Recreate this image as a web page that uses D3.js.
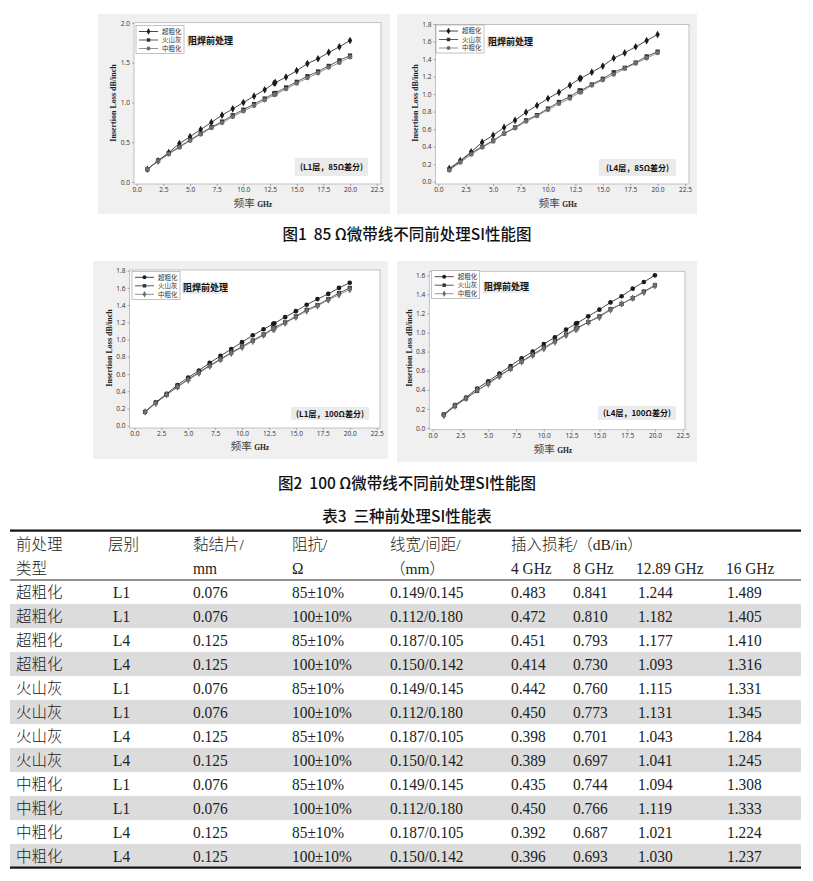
<!DOCTYPE html>
<html>
<head>
<meta charset="utf-8">
<script src="https://cdn.jsdelivr.net/npm/d3@7"></script>
<style>
  body { margin: 0; background: #fff; }
  svg { display: block; }
</style>
</head>
<body>
<svg id="fig" width="813" height="881"></svg>
<script>
// ---- data ------------------------------------------------------------
var freqs = [1, 2, 3, 4, 5, 6, 7, 8, 9, 10, 11, 12, 12.89, 13, 14, 15, 16, 17, 18, 19, 20];
var seriesNames = ['超粗化', '火山灰', '中粗化'];
var xTicks = [0, 2.5, 5, 7.5, 10, 12.5, 15, 17.5, 20, 22.5];

// 图1 L1层 85Ω
var l1_85_chao  = [0.16, 0.265, 0.37, 0.483, 0.57, 0.66, 0.75, 0.841, 0.92, 1.00, 1.08, 1.16, 1.244, 1.25, 1.32, 1.40, 1.489, 1.55, 1.63, 1.70, 1.78];
var l1_85_huo   = [0.16, 0.27, 0.36, 0.442, 0.53, 0.61, 0.69, 0.760, 0.84, 0.91, 0.98, 1.05, 1.115, 1.12, 1.19, 1.26, 1.331, 1.39, 1.46, 1.53, 1.59];
var l1_85_zhong = [0.16, 0.26, 0.35, 0.435, 0.52, 0.60, 0.68, 0.744, 0.82, 0.89, 0.96, 1.03, 1.094, 1.10, 1.17, 1.24, 1.308, 1.37, 1.44, 1.50, 1.57];
// 图1 L4层 85Ω
var l4_85_chao  = [0.15, 0.24, 0.34, 0.451, 0.53, 0.62, 0.70, 0.793, 0.87, 0.95, 1.02, 1.10, 1.177, 1.18, 1.25, 1.32, 1.410, 1.47, 1.54, 1.61, 1.68];
var l4_85_huo   = [0.14, 0.23, 0.33, 0.398, 0.47, 0.55, 0.62, 0.701, 0.76, 0.835, 0.91, 0.97, 1.043, 1.04, 1.11, 1.175, 1.25, 1.30, 1.36, 1.43, 1.485];
var l4_85_zhong = [0.13, 0.22, 0.31, 0.392, 0.46, 0.55, 0.61, 0.687, 0.75, 0.82, 0.89, 0.95, 1.021, 1.02, 1.10, 1.16, 1.224, 1.29, 1.35, 1.41, 1.47];
// 图2 L1层 100Ω
var l1_100_chao  = [0.16, 0.27, 0.37, 0.472, 0.56, 0.64, 0.73, 0.810, 0.89, 0.97, 1.05, 1.12, 1.182, 1.19, 1.26, 1.33, 1.405, 1.47, 1.53, 1.60, 1.66];
var l1_100_huo   = [0.16, 0.27, 0.36, 0.450, 0.54, 0.62, 0.70, 0.773, 0.85, 0.92, 0.99, 1.06, 1.131, 1.14, 1.20, 1.27, 1.345, 1.40, 1.47, 1.54, 1.60];
var l1_100_zhong = [0.16, 0.26, 0.36, 0.450, 0.53, 0.61, 0.69, 0.766, 0.84, 0.91, 0.98, 1.05, 1.119, 1.12, 1.19, 1.26, 1.333, 1.39, 1.46, 1.52, 1.58];
// 图2 L4层 100Ω
var l4_100_chao  = [0.14, 0.24, 0.32, 0.414, 0.49, 0.57, 0.65, 0.730, 0.80, 0.88, 0.95, 1.03, 1.093, 1.10, 1.17, 1.24, 1.316, 1.38, 1.46, 1.53, 1.60];
var l4_100_huo   = [0.14, 0.23, 0.31, 0.389, 0.47, 0.55, 0.62, 0.697, 0.77, 0.84, 0.91, 0.98, 1.041, 1.05, 1.11, 1.17, 1.245, 1.30, 1.36, 1.43, 1.495];
var l4_100_zhong = [0.13, 0.23, 0.31, 0.396, 0.46, 0.54, 0.62, 0.693, 0.76, 0.83, 0.90, 0.97, 1.030, 1.04, 1.11, 1.16, 1.237, 1.30, 1.36, 1.42, 1.49];

// 表3
var tableHead1 = ['前处理', '层别', '黏结片/', '阻抗/', '线宽/间距/', '插入损耗/（dB/in）', '', '', ''];
var tableHead2 = ['类型', '', 'mm', 'Ω', '（mm）', '4 GHz', '8 GHz', '12.89 GHz', '16 GHz'];
var tType   = ['超粗化', '超粗化', '超粗化', '超粗化', '火山灰', '火山灰', '火山灰', '火山灰', '中粗化', '中粗化', '中粗化', '中粗化'];
var tLayer  = ['L1', 'L1', 'L4', 'L4', 'L1', 'L1', 'L4', 'L4', 'L1', 'L1', 'L4', 'L4'];
var tBond   = ['0.076', '0.076', '0.125', '0.125', '0.076', '0.076', '0.125', '0.125', '0.076', '0.076', '0.125', '0.125'];
var tImp    = ['85±10%', '100±10%', '85±10%', '100±10%', '85±10%', '100±10%', '85±10%', '100±10%', '85±10%', '100±10%', '85±10%', '100±10%'];
var tWidth  = ['0.149/0.145', '0.112/0.180', '0.187/0.105', '0.150/0.142', '0.149/0.145', '0.112/0.180', '0.187/0.105', '0.150/0.142', '0.149/0.145', '0.112/0.180', '0.187/0.105', '0.150/0.142'];
var tLoss4  = ['0.483', '0.472', '0.451', '0.414', '0.442', '0.450', '0.398', '0.389', '0.435', '0.450', '0.392', '0.396'];
var tLoss8  = ['0.841', '0.810', '0.793', '0.730', '0.760', '0.773', '0.701', '0.697', '0.744', '0.766', '0.687', '0.693'];
var tLoss12 = ['1.244', '1.182', '1.177', '1.093', '1.115', '1.131', '1.043', '1.041', '1.094', '1.119', '1.021', '1.030'];
var tLoss16 = ['1.489', '1.405', '1.410', '1.316', '1.331', '1.345', '1.284', '1.245', '1.308', '1.333', '1.224', '1.237'];

// ---- layout ----------------------------------------------------------
var svg = d3.select('#fig');
var CJK = '"Noto Sans CJK SC", "Noto Sans", sans-serif';
var SERIF = '"Liberation Serif", "DejaVu Serif", serif';

var charts = [
  { series: [l1_85_chao, l1_85_huo, l1_85_zhong], yTicks: [0, 0.5, 1.0, 1.5, 2.0], yMax: 2.0,
    panel: [98, 14, 390, 214], frame: [134, 22.7, 381, 184], xr: [136.7, 376.7], yr: [182, 23],
    legend: [136, 25.5], note: [188, 41], tag: [295, 158, 73, 18], tagText: '(L1层，85Ω差分)',
    ylab: [113, 103], xlab: [253, 203], sym: [d3.symbolDiamond, d3.symbolSquare, d3.symbolCircle] },
  { series: [l4_85_chao, l4_85_huo, l4_85_zhong], yTicks: [0, 0.2, 0.4, 0.6, 0.8, 1.0, 1.2, 1.4, 1.6, 1.8], yMax: 1.8,
    panel: [397, 14, 697, 214], frame: [435.5, 24.5, 689, 184], xr: [438.3, 685], yr: [181.7, 24],
    legend: [436, 25], note: [488, 42], tag: [599, 159, 77, 17], tagText: '(L4层，85Ω差分)',
    ylab: [415, 103], xlab: [558, 203], sym: [d3.symbolDiamond, d3.symbolSquare, d3.symbolCircle] },
  { series: [l1_100_chao, l1_100_huo, l1_100_zhong], yTicks: [0, 0.2, 0.4, 0.6, 0.8, 1.0, 1.2, 1.4, 1.6, 1.8], yMax: 1.8,
    panel: [93, 261, 388, 459], frame: [129.5, 270, 380, 428], xr: [134.3, 376.7], yr: [425.7, 270.7],
    legend: [132, 271.3], note: [183, 288], tag: [291, 407, 78, 13], tagText: '(L1层，100Ω差分)',
    ylab: [109, 348], xlab: [250, 446], sym: [d3.symbolCircle, d3.symbolSquare, d3.symbolDiamond] },
  { series: [l4_100_chao, l4_100_huo, l4_100_zhong], yTicks: [0, 0.2, 0.4, 0.6, 0.8, 1.0, 1.2, 1.4, 1.6], yMax: 1.6,
    panel: [397, 261, 697, 462], frame: [429.3, 271.3, 685, 429.7], xr: [432.7, 682.7], yr: [428, 275.3],
    legend: [431.7, 270.7], note: [484, 287], tag: [598, 406, 78, 14], tagText: '(L4层，100Ω差分)',
    ylab: [409, 348], xlab: [553, 449], sym: [d3.symbolCircle, d3.symbolSquare, d3.symbolDiamond] }
];

var lineColors = ['#1b1b1b', '#2e2e2e', '#777777'];
var markColors = ['#1b1b1b', '#333333', '#6e6e6e'];

charts.forEach(function (c) {
  var g = svg.append('g');

  // panel + frame
  g.append('rect')
    .attr('x', c.panel[0]).attr('y', c.panel[1])
    .attr('width', c.panel[2] - c.panel[0]).attr('height', c.panel[3] - c.panel[1])
    .attr('fill', '#f0f0f0');
  g.append('rect')
    .attr('x', c.frame[0]).attr('y', c.frame[1])
    .attr('width', c.frame[2] - c.frame[0]).attr('height', c.frame[3] - c.frame[1])
    .attr('fill', '#fff').attr('stroke', '#b5b5b5').attr('stroke-width', 0.8);

  var x = d3.scaleLinear().domain([0, 22.5]).range(c.xr);
  var y = d3.scaleLinear().domain([0, c.yMax]).range(c.yr);

  // axes
  var xa = g.append('g').attr('transform', 'translate(0,' + c.frame[3] + ')')
    .call(d3.axisBottom(x).tickValues(xTicks).tickFormat(d3.format('.1f')).tickSize(2).tickPadding(1.5));
  var ya = g.append('g').attr('transform', 'translate(' + c.frame[0] + ',0)')
    .call(d3.axisLeft(y).tickValues(c.yTicks).tickFormat(d3.format('.1f')).tickSize(2).tickPadding(2));
  [xa, ya].forEach(function (a) {
    a.select('.domain').remove();
    a.selectAll('line').attr('stroke', '#777').attr('stroke-width', 0.6);
    a.selectAll('text').attr('fill', '#333').style('font-family', '"Open Sans", sans-serif').style('font-size', '6.6px');
  });

  // series
  var line = d3.line().x(function (d, i) { return x(freqs[i]); }).y(function (d) { return y(d); });
  c.series.forEach(function (vals, s) {
    g.append('path').datum(vals)
      .attr('d', line).attr('fill', 'none')
      .attr('stroke', lineColors[s]).attr('stroke-width', 0.8);
  });
  c.series.forEach(function (vals, s) {
    g.selectAll(null).data(vals).enter().append('path')
      .attr('transform', function (d, i) { return 'translate(' + x(freqs[i]) + ',' + y(d) + ')'; })
      .attr('d', d3.symbol().type(c.sym[s]).size(s === 1 ? 18 : 17))
      .attr('fill', markColors[s]);
  });

  // legend
  var lg = g.append('g').attr('transform', 'translate(' + c.legend[0] + ',' + c.legend[1] + ')');
  lg.append('rect').attr('width', 48).attr('height', 28)
    .attr('fill', '#fff').attr('stroke', '#999').attr('stroke-width', 0.6);
  seriesNames.forEach(function (n, s) {
    var ry = 6 + s * 8.5;
    lg.append('line').attr('x1', 3).attr('x2', 22).attr('y1', ry).attr('y2', ry)
      .attr('stroke', lineColors[s]).attr('stroke-width', 0.8);
    lg.append('path').attr('transform', 'translate(12.5,' + ry + ')')
      .attr('d', d3.symbol().type(c.sym[s]).size(12)).attr('fill', markColors[s]);
    lg.append('text').attr('x', 26).attr('y', ry + 2.3).text(n)
      .style('font-family', CJK).style('font-size', '6.5px').attr('fill', '#333');
  });

  // note "阻焊前处理"
  g.append('rect').attr('x', c.note[0] - 1).attr('y', c.note[1] - 6)
    .attr('width', 46).attr('height', 12).attr('fill', '#ececec');
  g.append('text').attr('x', c.note[0]).attr('y', c.note[1] + 3.2).text('阻焊前处理')
    .style('font-family', CJK).style('font-size', '9px').style('font-weight', 700).attr('fill', '#111');

  // layer / impedance tag
  g.append('rect').attr('x', c.tag[0]).attr('y', c.tag[1])
    .attr('width', c.tag[2]).attr('height', c.tag[3]).attr('fill', '#ebebeb');
  g.append('text').attr('x', c.tag[0] + c.tag[2] / 2).attr('y', c.tag[1] + c.tag[3] / 2 + 3)
    .attr('text-anchor', 'middle').text(c.tagText)
    .style('font-family', CJK).style('font-size', '8px').style('font-weight', 700).attr('fill', '#111');

  // axis titles
  g.append('text')
    .attr('transform', 'translate(' + c.ylab[0] + ',' + c.ylab[1] + ') rotate(-90)')
    .attr('text-anchor', 'middle').attr('dy', '0.35em').text('Insertion Loss dB/inch')
    .style('font-family', SERIF).style('font-size', '8px').style('font-weight', 700).attr('fill', '#222');
  var xt = g.append('text').attr('x', c.xlab[0]).attr('y', c.xlab[1] + 3.5).attr('text-anchor', 'middle');
  xt.append('tspan').text('频率 ').style('font-family', CJK).style('font-size', '10.5px').attr('fill', '#444');
  xt.append('tspan').text('GHz').style('font-family', SERIF).style('font-size', '7.5px').style('font-weight', 700).attr('fill', '#222');
});

// ---- captions ----------------------------------------------------------
function caption(txt, cy) {
  svg.append('text').attr('x', 407).attr('y', cy + 5.5).attr('text-anchor', 'middle').text(txt)
    .style('font-family', CJK).style('font-size', '15.5px').style('font-weight', 500)
    .style('white-space', 'pre').attr('fill', '#111');
}
caption('图1  85 Ω微带线不同前处理SI性能图', 234);
caption('图2  100 Ω微带线不同前处理SI性能图', 483);
caption('表3  三种前处理SI性能表', 516);

// ---- table -------------------------------------------------------------
var colX = [16, 108, 193, 292, 390, 511, 573, 636, 726];
var rowY0 = 592, rowH = 24, tL = 10, tR = 801;
var tbl = svg.append('g');

tType.forEach(function (t, i) {
  if (i % 2 === 1) {
    tbl.append('rect').attr('x', tL).attr('y', rowY0 + i * rowH - 12)
      .attr('width', tR - tL).attr('height', rowH).attr('fill', '#dcdcdc');
  }
});
tbl.append('rect').attr('x', tL).attr('y', 529.5).attr('width', tR - tL).attr('height', 2.2).attr('fill', '#111');
tbl.append('rect').attr('x', tL).attr('y', 579.5).attr('width', tR - tL).attr('height', 1).attr('fill', '#222');
tbl.append('rect').attr('x', tL).attr('y', 866.5).attr('width', tR - tL).attr('height', 2.2).attr('fill', '#111');

function isCJK(s) { return /[\u4e00-\u9fff\uff08]/.test(s); }
function cell(txt, cx, cy) {
  if (!txt) return;
  var cjk = isCJK(txt);
  tbl.append('text')
    .attr('transform', 'translate(' + cx + ',' + (cy + 6) + ') scale(' + (cjk ? 1 : 0.88) + ',1)')
    .text(txt)
    .style('font-family', cjk ? SERIF + ', ' + CJK : SERIF)
    .style('font-size', cjk ? '15.5px' : '17.5px')
    .style('font-weight', cjk ? 300 : 400)
    .attr('fill', '#222');
}
tableHead1.forEach(function (t, j) { cell(t, colX[j], 544); });
tableHead2.forEach(function (t, j) { cell(t, colX[j], 568); });

var cols = [tType, tLayer, tBond, tImp, tWidth, tLoss4, tLoss8, tLoss12, tLoss16];
tType.forEach(function (t, i) {
  cols.forEach(function (col, j) {
    var dx = (j === 1) ? 5 : (j === 7 ? 2 : (j === 8 ? 1 : 0));
    cell(col[i], colX[j] + dx, rowY0 + i * rowH);
  });
});
</script>
</body>
</html>
